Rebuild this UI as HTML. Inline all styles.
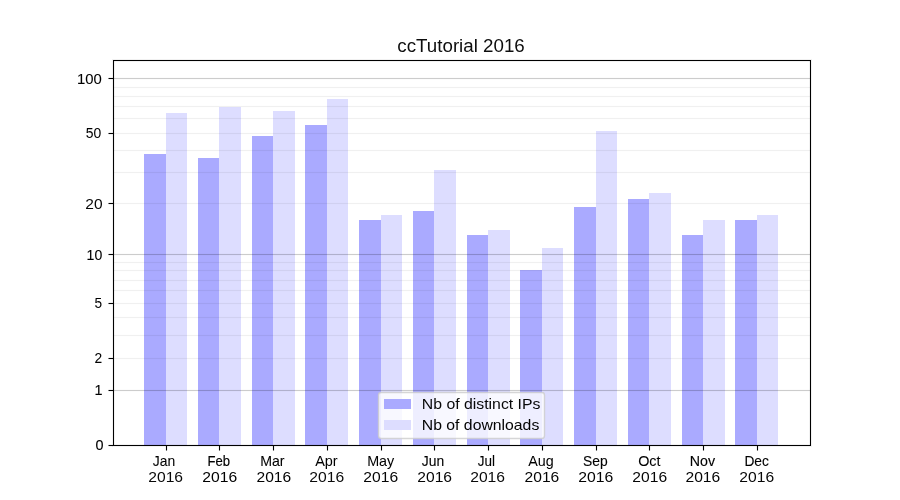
<!DOCTYPE html>
<html><head><meta charset="utf-8"><title>ccTutorial 2016</title>
<style>
html,body{margin:0;padding:0;background:#fff;width:900px;height:500px;overflow:hidden;}
svg{display:block;}
text{font-family:"Liberation Sans",sans-serif;fill:#000;}
</style></head><body>
<svg width="900" height="500" viewBox="0 0 900 500">
<rect x="0" y="0" width="900" height="500" fill="#fff"/>
<rect x="144" y="154" width="22" height="291" fill="#aaaaff"/>
<rect x="166" y="113" width="21" height="332" fill="#ddddff"/>
<rect x="198" y="158" width="21" height="287" fill="#aaaaff"/>
<rect x="219" y="107" width="22" height="338" fill="#ddddff"/>
<rect x="252" y="136" width="21" height="309" fill="#aaaaff"/>
<rect x="273" y="111" width="22" height="334" fill="#ddddff"/>
<rect x="305" y="125" width="22" height="320" fill="#aaaaff"/>
<rect x="327" y="99" width="21" height="346" fill="#ddddff"/>
<rect x="359" y="220" width="22" height="225" fill="#aaaaff"/>
<rect x="381" y="215" width="21" height="230" fill="#ddddff"/>
<rect x="413" y="211" width="21" height="234" fill="#aaaaff"/>
<rect x="434" y="170" width="22" height="275" fill="#ddddff"/>
<rect x="467" y="235" width="21" height="210" fill="#aaaaff"/>
<rect x="488" y="230" width="22" height="215" fill="#ddddff"/>
<rect x="520" y="270" width="22" height="175" fill="#aaaaff"/>
<rect x="542" y="248" width="21" height="197" fill="#ddddff"/>
<rect x="574" y="207" width="22" height="238" fill="#aaaaff"/>
<rect x="596" y="131" width="21" height="314" fill="#ddddff"/>
<rect x="628" y="199" width="21" height="246" fill="#aaaaff"/>
<rect x="649" y="193" width="22" height="252" fill="#ddddff"/>
<rect x="682" y="235" width="21" height="210" fill="#aaaaff"/>
<rect x="703" y="220" width="22" height="225" fill="#ddddff"/>
<rect x="735" y="220" width="22" height="225" fill="#aaaaff"/>
<rect x="757" y="215" width="21" height="230" fill="#ddddff"/>
<rect x="113" y="87" width="698" height="1" fill="#000" fill-opacity="0.06"/>
<rect x="113" y="86" width="698" height="1" fill="#000" fill-opacity="0.004"/>
<rect x="113" y="88" width="698" height="1" fill="#000" fill-opacity="0.004"/>
<rect x="113" y="96" width="698" height="1" fill="#000" fill-opacity="0.06"/>
<rect x="113" y="95" width="698" height="1" fill="#000" fill-opacity="0.004"/>
<rect x="113" y="97" width="698" height="1" fill="#000" fill-opacity="0.004"/>
<rect x="113" y="106" width="698" height="1" fill="#000" fill-opacity="0.06"/>
<rect x="113" y="105" width="698" height="1" fill="#000" fill-opacity="0.004"/>
<rect x="113" y="107" width="698" height="1" fill="#000" fill-opacity="0.004"/>
<rect x="113" y="118" width="698" height="1" fill="#000" fill-opacity="0.06"/>
<rect x="113" y="117" width="698" height="1" fill="#000" fill-opacity="0.004"/>
<rect x="113" y="119" width="698" height="1" fill="#000" fill-opacity="0.004"/>
<rect x="113" y="133" width="698" height="1" fill="#000" fill-opacity="0.06"/>
<rect x="113" y="132" width="698" height="1" fill="#000" fill-opacity="0.004"/>
<rect x="113" y="134" width="698" height="1" fill="#000" fill-opacity="0.004"/>
<rect x="113" y="150" width="698" height="1" fill="#000" fill-opacity="0.06"/>
<rect x="113" y="149" width="698" height="1" fill="#000" fill-opacity="0.004"/>
<rect x="113" y="151" width="698" height="1" fill="#000" fill-opacity="0.004"/>
<rect x="113" y="172" width="698" height="1" fill="#000" fill-opacity="0.06"/>
<rect x="113" y="171" width="698" height="1" fill="#000" fill-opacity="0.004"/>
<rect x="113" y="173" width="698" height="1" fill="#000" fill-opacity="0.004"/>
<rect x="113" y="203" width="698" height="1" fill="#000" fill-opacity="0.06"/>
<rect x="113" y="202" width="698" height="1" fill="#000" fill-opacity="0.004"/>
<rect x="113" y="204" width="698" height="1" fill="#000" fill-opacity="0.004"/>
<rect x="113" y="262" width="698" height="1" fill="#000" fill-opacity="0.06"/>
<rect x="113" y="261" width="698" height="1" fill="#000" fill-opacity="0.004"/>
<rect x="113" y="263" width="698" height="1" fill="#000" fill-opacity="0.004"/>
<rect x="113" y="270" width="698" height="1" fill="#000" fill-opacity="0.06"/>
<rect x="113" y="269" width="698" height="1" fill="#000" fill-opacity="0.004"/>
<rect x="113" y="271" width="698" height="1" fill="#000" fill-opacity="0.004"/>
<rect x="113" y="280" width="698" height="1" fill="#000" fill-opacity="0.06"/>
<rect x="113" y="279" width="698" height="1" fill="#000" fill-opacity="0.004"/>
<rect x="113" y="281" width="698" height="1" fill="#000" fill-opacity="0.004"/>
<rect x="113" y="290" width="698" height="1" fill="#000" fill-opacity="0.06"/>
<rect x="113" y="289" width="698" height="1" fill="#000" fill-opacity="0.004"/>
<rect x="113" y="291" width="698" height="1" fill="#000" fill-opacity="0.004"/>
<rect x="113" y="303" width="698" height="1" fill="#000" fill-opacity="0.06"/>
<rect x="113" y="302" width="698" height="1" fill="#000" fill-opacity="0.004"/>
<rect x="113" y="304" width="698" height="1" fill="#000" fill-opacity="0.004"/>
<rect x="113" y="317" width="698" height="1" fill="#000" fill-opacity="0.06"/>
<rect x="113" y="316" width="698" height="1" fill="#000" fill-opacity="0.004"/>
<rect x="113" y="318" width="698" height="1" fill="#000" fill-opacity="0.004"/>
<rect x="113" y="335" width="698" height="1" fill="#000" fill-opacity="0.06"/>
<rect x="113" y="334" width="698" height="1" fill="#000" fill-opacity="0.004"/>
<rect x="113" y="336" width="698" height="1" fill="#000" fill-opacity="0.004"/>
<rect x="113" y="358" width="698" height="1" fill="#000" fill-opacity="0.06"/>
<rect x="113" y="357" width="698" height="1" fill="#000" fill-opacity="0.004"/>
<rect x="113" y="359" width="698" height="1" fill="#000" fill-opacity="0.004"/>
<rect x="113" y="78" width="698" height="1" fill="#000" fill-opacity="0.2"/>
<rect x="113" y="77" width="698" height="1" fill="#000" fill-opacity="0.012"/>
<rect x="113" y="79" width="698" height="1" fill="#000" fill-opacity="0.012"/>
<rect x="113" y="254" width="698" height="1" fill="#000" fill-opacity="0.2"/>
<rect x="113" y="253" width="698" height="1" fill="#000" fill-opacity="0.012"/>
<rect x="113" y="255" width="698" height="1" fill="#000" fill-opacity="0.012"/>
<rect x="113" y="390" width="698" height="1" fill="#000" fill-opacity="0.2"/>
<rect x="113" y="389" width="698" height="1" fill="#000" fill-opacity="0.012"/>
<rect x="113" y="391" width="698" height="1" fill="#000" fill-opacity="0.012"/>
<rect x="113" y="60" width="698" height="1" fill="#000"/>
<rect x="113" y="445" width="698" height="1" fill="#000"/>
<rect x="113" y="60" width="1" height="386" fill="#000"/>
<rect x="810" y="60" width="1" height="386" fill="#000"/>
<rect x="112" y="59" width="700" height="1" fill="#000" fill-opacity="0.055"/>
<rect x="114" y="61" width="696" height="1" fill="#000" fill-opacity="0.055"/>
<rect x="112" y="446" width="700" height="1" fill="#000" fill-opacity="0.055"/>
<rect x="114" y="444" width="696" height="1" fill="#000" fill-opacity="0.055"/>
<rect x="112" y="60" width="1" height="386" fill="#000" fill-opacity="0.055"/>
<rect x="114" y="61" width="1" height="384" fill="#000" fill-opacity="0.055"/>
<rect x="811" y="60" width="1" height="386" fill="#000" fill-opacity="0.055"/>
<rect x="809" y="61" width="1" height="384" fill="#000" fill-opacity="0.055"/>
<rect x="109" y="78" width="4" height="1" fill="#000"/>
<rect x="108" y="78" width="1" height="1" fill="#000" fill-opacity="0.5"/>
<rect x="109" y="77" width="4" height="1" fill="#000" fill-opacity="0.055"/>
<rect x="109" y="79" width="4" height="1" fill="#000" fill-opacity="0.055"/>
<rect x="108" y="77" width="1" height="1" fill="#000" fill-opacity="0.027"/>
<rect x="108" y="79" width="1" height="1" fill="#000" fill-opacity="0.027"/>
<rect x="109" y="133" width="4" height="1" fill="#000"/>
<rect x="108" y="133" width="1" height="1" fill="#000" fill-opacity="0.5"/>
<rect x="109" y="132" width="4" height="1" fill="#000" fill-opacity="0.055"/>
<rect x="109" y="134" width="4" height="1" fill="#000" fill-opacity="0.055"/>
<rect x="108" y="132" width="1" height="1" fill="#000" fill-opacity="0.027"/>
<rect x="108" y="134" width="1" height="1" fill="#000" fill-opacity="0.027"/>
<rect x="109" y="203" width="4" height="1" fill="#000"/>
<rect x="108" y="203" width="1" height="1" fill="#000" fill-opacity="0.5"/>
<rect x="109" y="202" width="4" height="1" fill="#000" fill-opacity="0.055"/>
<rect x="109" y="204" width="4" height="1" fill="#000" fill-opacity="0.055"/>
<rect x="108" y="202" width="1" height="1" fill="#000" fill-opacity="0.027"/>
<rect x="108" y="204" width="1" height="1" fill="#000" fill-opacity="0.027"/>
<rect x="109" y="254" width="4" height="1" fill="#000"/>
<rect x="108" y="254" width="1" height="1" fill="#000" fill-opacity="0.5"/>
<rect x="109" y="253" width="4" height="1" fill="#000" fill-opacity="0.055"/>
<rect x="109" y="255" width="4" height="1" fill="#000" fill-opacity="0.055"/>
<rect x="108" y="253" width="1" height="1" fill="#000" fill-opacity="0.027"/>
<rect x="108" y="255" width="1" height="1" fill="#000" fill-opacity="0.027"/>
<rect x="109" y="303" width="4" height="1" fill="#000"/>
<rect x="108" y="303" width="1" height="1" fill="#000" fill-opacity="0.5"/>
<rect x="109" y="302" width="4" height="1" fill="#000" fill-opacity="0.055"/>
<rect x="109" y="304" width="4" height="1" fill="#000" fill-opacity="0.055"/>
<rect x="108" y="302" width="1" height="1" fill="#000" fill-opacity="0.027"/>
<rect x="108" y="304" width="1" height="1" fill="#000" fill-opacity="0.027"/>
<rect x="109" y="358" width="4" height="1" fill="#000"/>
<rect x="108" y="358" width="1" height="1" fill="#000" fill-opacity="0.5"/>
<rect x="109" y="357" width="4" height="1" fill="#000" fill-opacity="0.055"/>
<rect x="109" y="359" width="4" height="1" fill="#000" fill-opacity="0.055"/>
<rect x="108" y="357" width="1" height="1" fill="#000" fill-opacity="0.027"/>
<rect x="108" y="359" width="1" height="1" fill="#000" fill-opacity="0.027"/>
<rect x="109" y="390" width="4" height="1" fill="#000"/>
<rect x="108" y="390" width="1" height="1" fill="#000" fill-opacity="0.5"/>
<rect x="109" y="389" width="4" height="1" fill="#000" fill-opacity="0.055"/>
<rect x="109" y="391" width="4" height="1" fill="#000" fill-opacity="0.055"/>
<rect x="108" y="389" width="1" height="1" fill="#000" fill-opacity="0.027"/>
<rect x="108" y="391" width="1" height="1" fill="#000" fill-opacity="0.027"/>
<rect x="109" y="445" width="4" height="1" fill="#000"/>
<rect x="108" y="445" width="1" height="1" fill="#000" fill-opacity="0.5"/>
<rect x="109" y="444" width="4" height="1" fill="#000" fill-opacity="0.055"/>
<rect x="109" y="446" width="4" height="1" fill="#000" fill-opacity="0.055"/>
<rect x="108" y="444" width="1" height="1" fill="#000" fill-opacity="0.027"/>
<rect x="108" y="446" width="1" height="1" fill="#000" fill-opacity="0.027"/>
<rect x="166" y="446" width="1" height="4" fill="#000"/>
<rect x="166" y="450" width="1" height="1" fill="#000" fill-opacity="0.5"/>
<rect x="165" y="450" width="1" height="1" fill="#000" fill-opacity="0.027"/>
<rect x="167" y="450" width="1" height="1" fill="#000" fill-opacity="0.027"/>
<rect x="165" y="446" width="1" height="4" fill="#000" fill-opacity="0.055"/>
<rect x="167" y="446" width="1" height="4" fill="#000" fill-opacity="0.055"/>
<rect x="219" y="446" width="1" height="4" fill="#000"/>
<rect x="219" y="450" width="1" height="1" fill="#000" fill-opacity="0.5"/>
<rect x="218" y="450" width="1" height="1" fill="#000" fill-opacity="0.027"/>
<rect x="220" y="450" width="1" height="1" fill="#000" fill-opacity="0.027"/>
<rect x="218" y="446" width="1" height="4" fill="#000" fill-opacity="0.055"/>
<rect x="220" y="446" width="1" height="4" fill="#000" fill-opacity="0.055"/>
<rect x="273" y="446" width="1" height="4" fill="#000"/>
<rect x="273" y="450" width="1" height="1" fill="#000" fill-opacity="0.5"/>
<rect x="272" y="450" width="1" height="1" fill="#000" fill-opacity="0.027"/>
<rect x="274" y="450" width="1" height="1" fill="#000" fill-opacity="0.027"/>
<rect x="272" y="446" width="1" height="4" fill="#000" fill-opacity="0.055"/>
<rect x="274" y="446" width="1" height="4" fill="#000" fill-opacity="0.055"/>
<rect x="327" y="446" width="1" height="4" fill="#000"/>
<rect x="327" y="450" width="1" height="1" fill="#000" fill-opacity="0.5"/>
<rect x="326" y="450" width="1" height="1" fill="#000" fill-opacity="0.027"/>
<rect x="328" y="450" width="1" height="1" fill="#000" fill-opacity="0.027"/>
<rect x="326" y="446" width="1" height="4" fill="#000" fill-opacity="0.055"/>
<rect x="328" y="446" width="1" height="4" fill="#000" fill-opacity="0.055"/>
<rect x="381" y="446" width="1" height="4" fill="#000"/>
<rect x="381" y="450" width="1" height="1" fill="#000" fill-opacity="0.5"/>
<rect x="380" y="450" width="1" height="1" fill="#000" fill-opacity="0.027"/>
<rect x="382" y="450" width="1" height="1" fill="#000" fill-opacity="0.027"/>
<rect x="380" y="446" width="1" height="4" fill="#000" fill-opacity="0.055"/>
<rect x="382" y="446" width="1" height="4" fill="#000" fill-opacity="0.055"/>
<rect x="434" y="446" width="1" height="4" fill="#000"/>
<rect x="434" y="450" width="1" height="1" fill="#000" fill-opacity="0.5"/>
<rect x="433" y="450" width="1" height="1" fill="#000" fill-opacity="0.027"/>
<rect x="435" y="450" width="1" height="1" fill="#000" fill-opacity="0.027"/>
<rect x="433" y="446" width="1" height="4" fill="#000" fill-opacity="0.055"/>
<rect x="435" y="446" width="1" height="4" fill="#000" fill-opacity="0.055"/>
<rect x="488" y="446" width="1" height="4" fill="#000"/>
<rect x="488" y="450" width="1" height="1" fill="#000" fill-opacity="0.5"/>
<rect x="487" y="450" width="1" height="1" fill="#000" fill-opacity="0.027"/>
<rect x="489" y="450" width="1" height="1" fill="#000" fill-opacity="0.027"/>
<rect x="487" y="446" width="1" height="4" fill="#000" fill-opacity="0.055"/>
<rect x="489" y="446" width="1" height="4" fill="#000" fill-opacity="0.055"/>
<rect x="542" y="446" width="1" height="4" fill="#000"/>
<rect x="542" y="450" width="1" height="1" fill="#000" fill-opacity="0.5"/>
<rect x="541" y="450" width="1" height="1" fill="#000" fill-opacity="0.027"/>
<rect x="543" y="450" width="1" height="1" fill="#000" fill-opacity="0.027"/>
<rect x="541" y="446" width="1" height="4" fill="#000" fill-opacity="0.055"/>
<rect x="543" y="446" width="1" height="4" fill="#000" fill-opacity="0.055"/>
<rect x="596" y="446" width="1" height="4" fill="#000"/>
<rect x="596" y="450" width="1" height="1" fill="#000" fill-opacity="0.5"/>
<rect x="595" y="450" width="1" height="1" fill="#000" fill-opacity="0.027"/>
<rect x="597" y="450" width="1" height="1" fill="#000" fill-opacity="0.027"/>
<rect x="595" y="446" width="1" height="4" fill="#000" fill-opacity="0.055"/>
<rect x="597" y="446" width="1" height="4" fill="#000" fill-opacity="0.055"/>
<rect x="649" y="446" width="1" height="4" fill="#000"/>
<rect x="649" y="450" width="1" height="1" fill="#000" fill-opacity="0.5"/>
<rect x="648" y="450" width="1" height="1" fill="#000" fill-opacity="0.027"/>
<rect x="650" y="450" width="1" height="1" fill="#000" fill-opacity="0.027"/>
<rect x="648" y="446" width="1" height="4" fill="#000" fill-opacity="0.055"/>
<rect x="650" y="446" width="1" height="4" fill="#000" fill-opacity="0.055"/>
<rect x="703" y="446" width="1" height="4" fill="#000"/>
<rect x="703" y="450" width="1" height="1" fill="#000" fill-opacity="0.5"/>
<rect x="702" y="450" width="1" height="1" fill="#000" fill-opacity="0.027"/>
<rect x="704" y="450" width="1" height="1" fill="#000" fill-opacity="0.027"/>
<rect x="702" y="446" width="1" height="4" fill="#000" fill-opacity="0.055"/>
<rect x="704" y="446" width="1" height="4" fill="#000" fill-opacity="0.055"/>
<rect x="757" y="446" width="1" height="4" fill="#000"/>
<rect x="757" y="450" width="1" height="1" fill="#000" fill-opacity="0.5"/>
<rect x="756" y="450" width="1" height="1" fill="#000" fill-opacity="0.027"/>
<rect x="758" y="450" width="1" height="1" fill="#000" fill-opacity="0.027"/>
<rect x="756" y="446" width="1" height="4" fill="#000" fill-opacity="0.055"/>
<rect x="758" y="446" width="1" height="4" fill="#000" fill-opacity="0.055"/>
<rect x="378.5" y="392.5" width="166.00" height="46.00" rx="2.78" ry="2.78" fill="#fff" fill-opacity="0.8" stroke="#ccc" stroke-opacity="0.8" stroke-width="1.39"/>
<rect x="384" y="399" width="27" height="10" fill="#aaaaff"/>
<rect x="384" y="420" width="27" height="10" fill="#ddddff"/>
<g style="filter:grayscale(1)">
<text x="397.34" y="52.00" font-size="17.50" textLength="127.45" lengthAdjust="spacingAndGlyphs" fill-opacity="0.948">ccTutorial 2016</text>
<text x="77.02" y="84.00" font-size="14.60" textLength="24.81" lengthAdjust="spacingAndGlyphs" stroke="#000" stroke-width="0.081">100</text>
<text x="85.82" y="138.00" font-size="14.60" textLength="15.48" lengthAdjust="spacingAndGlyphs" stroke="#000" stroke-width="0.032">50</text>
<text x="85.39" y="209.00" font-size="14.60" textLength="17.28" lengthAdjust="spacingAndGlyphs" fill-opacity="0.973">20</text>
<text x="86.59" y="260.00" font-size="14.60" textLength="15.64" lengthAdjust="spacingAndGlyphs" stroke="#000" stroke-width="0.117">10</text>
<text x="94.47" y="308.00" font-size="14.60" textLength="7.60" lengthAdjust="spacingAndGlyphs" stroke="#000" stroke-width="0.020">5</text>
<text x="94.40" y="363.00" font-size="14.60" textLength="7.68" lengthAdjust="spacingAndGlyphs" stroke="#000" stroke-width="0.046">2</text>
<text x="94.57" y="395.00" font-size="14.60" textLength="8.04" lengthAdjust="spacingAndGlyphs" stroke="#000" stroke-width="0.112">1</text>
<text x="95.42" y="450.00" font-size="14.60" textLength="8.02" lengthAdjust="spacingAndGlyphs" stroke="#000" stroke-width="0.153">0</text>
<text x="152.72" y="466.00" font-size="14.60" textLength="22.47" lengthAdjust="spacingAndGlyphs" stroke="#000" stroke-width="0.051">Jan</text>
<text x="148.24" y="482.00" font-size="14.60" textLength="34.81" lengthAdjust="spacingAndGlyphs" fill-opacity="0.967">2016</text>
<text x="207.62" y="466.00" font-size="14.60" textLength="22.54" lengthAdjust="spacingAndGlyphs" stroke="#000" stroke-width="0.183">Feb</text>
<text x="202.22" y="482.00" font-size="14.60" textLength="34.92" lengthAdjust="spacingAndGlyphs" stroke="#000" stroke-width="0.006">2016</text>
<text x="260.19" y="466.00" font-size="14.60" textLength="24.40" lengthAdjust="spacingAndGlyphs" stroke="#000" stroke-width="0.087">Mar</text>
<text x="256.50" y="482.00" font-size="14.60" textLength="34.69" lengthAdjust="spacingAndGlyphs" fill-opacity="0.995">2016</text>
<text x="315.13" y="466.00" font-size="14.60" textLength="22.55" lengthAdjust="spacingAndGlyphs" stroke="#000" stroke-width="0.017">Apr</text>
<text x="309.32" y="482.00" font-size="14.60" textLength="34.92" lengthAdjust="spacingAndGlyphs" fill-opacity="0.959">2016</text>
<text x="367.17" y="466.00" font-size="14.60" textLength="27.10" lengthAdjust="spacingAndGlyphs" stroke="#000" stroke-width="0.034">May</text>
<text x="363.38" y="482.00" font-size="14.60" textLength="34.83" lengthAdjust="spacingAndGlyphs" fill-opacity="0.982">2016</text>
<text x="421.75" y="466.00" font-size="14.60" textLength="22.36" lengthAdjust="spacingAndGlyphs" stroke="#000" stroke-width="0.106">Jun</text>
<text x="417.31" y="482.00" font-size="14.60" textLength="34.75" lengthAdjust="spacingAndGlyphs" fill-opacity="0.983">2016</text>
<text x="477.67" y="466.00" font-size="14.60" textLength="17.21" lengthAdjust="spacingAndGlyphs" stroke="#000" stroke-width="0.101">Jul</text>
<text x="470.19" y="482.00" font-size="14.60" textLength="34.81" lengthAdjust="spacingAndGlyphs" fill-opacity="0.963">2016</text>
<text x="528.24" y="466.00" font-size="14.60" textLength="25.47" lengthAdjust="spacingAndGlyphs" stroke="#000" stroke-width="0.003">Aug</text>
<text x="524.54" y="482.00" font-size="14.60" textLength="34.72" lengthAdjust="spacingAndGlyphs" fill-opacity="0.986">2016</text>
<text x="582.98" y="466.00" font-size="14.60" textLength="24.60" lengthAdjust="spacingAndGlyphs" stroke="#000" stroke-width="0.132">Sep</text>
<text x="578.17" y="482.00" font-size="14.60" textLength="35.07" lengthAdjust="spacingAndGlyphs" fill-opacity="0.991">2016</text>
<text x="638.18" y="466.00" font-size="14.60" textLength="22.40" lengthAdjust="spacingAndGlyphs" stroke="#000" stroke-width="0.054">Oct</text>
<text x="632.39" y="482.00" font-size="14.60" textLength="34.74" lengthAdjust="spacingAndGlyphs" fill-opacity="0.982">2016</text>
<text x="689.78" y="466.00" font-size="14.60" textLength="25.29" lengthAdjust="spacingAndGlyphs" stroke="#000" stroke-width="0.127">Nov</text>
<text x="685.45" y="482.00" font-size="14.60" textLength="34.78" lengthAdjust="spacingAndGlyphs" fill-opacity="0.987">2016</text>
<text x="744.40" y="466.00" font-size="14.60" textLength="24.46" lengthAdjust="spacingAndGlyphs" stroke="#000" stroke-width="0.113">Dec</text>
<text x="739.38" y="482.00" font-size="14.60" textLength="34.82" lengthAdjust="spacingAndGlyphs" fill-opacity="0.977">2016</text>
<text x="421.78" y="409.00" font-size="14.60" textLength="118.70" lengthAdjust="spacingAndGlyphs" fill-opacity="0.969">Nb of distinct IPs</text>
<text x="421.79" y="430.00" font-size="14.60" textLength="117.51" lengthAdjust="spacingAndGlyphs" fill-opacity="0.989">Nb of downloads</text>
</g>
</svg>
</body></html>
